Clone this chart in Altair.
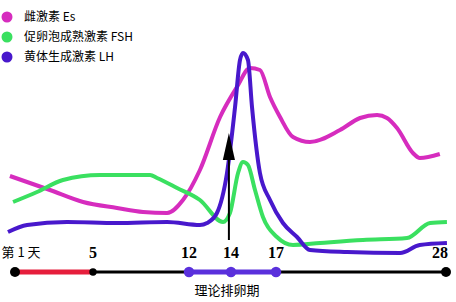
import altair as alt
import pandas as pd

# ---- data ----
series_names = ["雌激素 Es", "促卵泡成熟激素 FSH", "黄体生成激素 LH"]
series_colors = ["#d62cbe", "#3ae060", "#4818cc"]

es_day = [0.74, 2.79, 4.49, 6.75, 8.65, 10.4, 11.56, 12.52, 13.48, 14.4, 15.27, 15.93, 16.6, 17.26, 18.1, 19.2, 21.14, 22.44, 23.54, 24.18, 24.83, 25.86, 26.31, 27.6]
es_lvl = [126, 112, 100, 94, 90, 89, 102, 132, 185, 215, 234, 232, 205, 185, 165, 160, 172, 184, 187, 184, 174, 149, 144, 148]

fsh_day = [0.9, 2.13, 3.46, 5.51, 9.16, 9.67, 11.13, 12.52, 13.62, 13.95, 14.47, 14.8, 15.13, 15.6, 16.13, 17.06, 18.1, 19.85, 22.63, 25.48, 26.97, 28.06]
fsh_lvl = [100, 110, 122, 127, 127, 124, 114, 102, 80, 89, 129, 140, 137, 112, 85, 65, 57, 59, 62, 64, 79, 80]

lh_day = [0.64, 1.62, 3.67, 6.75, 10.4, 12.52, 12.86, 13.33, 13.81, 14.27, 14.6, 14.8, 15.13, 15.4, 15.93, 16.6, 17.45, 18.36, 19.2, 21.6, 25.03, 26.3, 28.06]
lh_lvl = [70, 77, 80, 79, 80, 77, 79, 89, 129, 195, 242, 249, 242, 195, 129, 102, 79, 65, 52, 50, 49, 57, 59]

tick_days = [1, 5, 12, 14, 17, 28]
tick_labels = ["第 1 天", "5", "12", "14", "17", "28"]
menses = [1, 5]
ovulation_window = [12, 17]
cycle = [1, 28]
black_dots = [1, 28]
small_dots = [5]
purple_dots = [12, 14, 17]
ovulation_day = 13.9
ovulation_label = "理论排卵期"

# ---- tables ----
rows = []
for name, days, lv in zip(series_names, [es_day, fsh_day, lh_day], [es_lvl, fsh_lvl, lh_lvl]):
    for d, v in zip(days, lv):
        rows.append({"series": name, "day": d, "level": v})
curves = pd.DataFrame(rows)

xs = alt.Scale(domain=[1, 5, 12, 14, 17, 28], range=[15, 93, 189, 231, 276, 446], nice=False, zero=False)
ys = alt.Scale(domain=[0, 302], range=[302, 0], nice=False, zero=False)
X = lambda f="day": alt.X(f, type="quantitative", scale=xs, axis=None)
Y = lambda f="level": alt.Y(f, type="quantitative", scale=ys, axis=None)
TL = 30  # timeline level

lines = alt.Chart(curves).mark_line(strokeWidth=4, interpolate="monotone").encode(
    x=X(), y=Y(),
    color=alt.Color("series:N", sort=series_names,
                    scale=alt.Scale(domain=series_names, range=series_colors),
                    legend=alt.Legend(title=None, orient="none", legendX=1, legendY=11,
                                      symbolType="circle", symbolSize=30, symbolStrokeWidth=5.5,
                                      labelFont="Noto Sans CJK SC", labelFontSize=12, labelColor="#000",
                                      labelOffset=11, rowPadding=-14, padding=0)),
)

def seg(pair, color, width):
    df = pd.DataFrame({"d0": [pair[0]], "d1": [pair[1]], "lv": [TL]})
    return alt.Chart(df).mark_rule(color=color, strokeWidth=width).encode(x=X("d0"), x2="d1", y=Y("lv"))

def dots(days, color, size):
    df = pd.DataFrame({"day": days, "lv": [TL] * len(days)})
    return alt.Chart(df).mark_point(filled=True, shape="circle", color=color, size=size, opacity=1).encode(x=X(), y=Y("lv"))

lab_df = pd.DataFrame({"day": tick_days, "label": tick_labels, "lv": [49] * len(tick_days)})
first_lab = alt.Chart(lab_df.iloc[:1]).mark_text(font="Noto Sans CJK SC", fontSize=13, dx=6, color="#000").encode(
    x=X(), y=Y("lv"), text="label:N")
mid_lab = alt.Chart(lab_df.iloc[1:-1]).mark_text(font="Liberation Serif", fontWeight="bold", fontSize=16, color="#000").encode(
    x=X(), y=Y("lv"), text="label:N")
last_lab = alt.Chart(lab_df.iloc[-1:]).mark_text(font="Liberation Serif", fontWeight="bold", fontSize=16, color="#000", dx=-6).encode(
    x=X(), y=Y("lv"), text="label:N")

ovl_df = pd.DataFrame({"day": [ovulation_day], "label": [ovulation_label], "lv": [11]})
ov_text = alt.Chart(ovl_df).mark_text(font="Noto Sans CJK SC", fontSize=13, color="#000", dx=-2).encode(
    x=X(), y=Y("lv"), text="label:N")

arrow_df = pd.DataFrame({"day": [ovulation_day], "lo": [62], "hi": [145], "tip": [155.5]})
arrow_shaft = alt.Chart(arrow_df).mark_rule(color="#000", strokeWidth=2).encode(x=X(), y=Y("lo"), y2="hi")
arrow_head = alt.Chart(arrow_df).mark_point(shape="M0,-1L0.45,1L-0.45,1Z", filled=True, color="#000",
                                             size=729, opacity=1).encode(x=X(), y=Y("tip"))

chart = alt.layer(
    seg(cycle, "#000", 3), seg(menses, "#e61e3c", 5), seg(ovulation_window, "#5a30dc", 5),
    dots(black_dots, "#000", 100), dots(small_dots, "#000", 55), dots(purple_dots, "#5a30dc", 110),
    first_lab, mid_lab, last_lab, ov_text,
    lines, arrow_shaft, arrow_head,
).properties(width=456, height=302, padding=0, autosize="none").configure_view(stroke=None)

chart.save("out.html", embed_options={"renderer": "svg", "actions": False})
